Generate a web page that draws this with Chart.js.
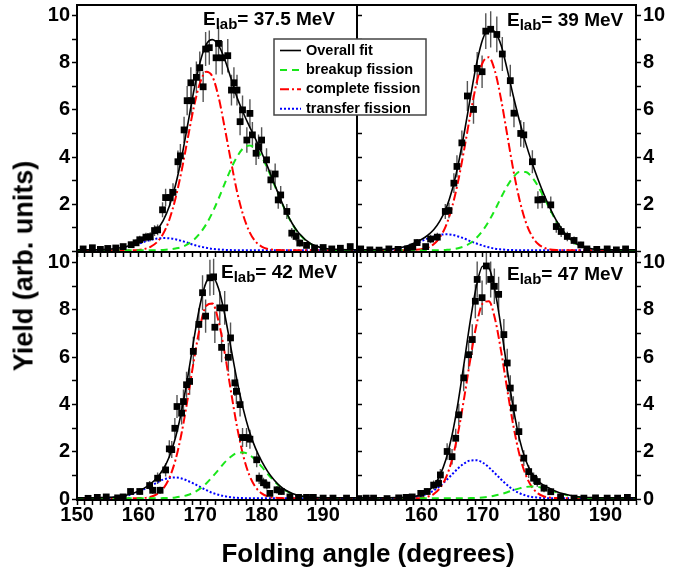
<!DOCTYPE html>
<html>
<head>
<meta charset="utf-8">
<script src="https://cdn.jsdelivr.net/npm/chart.js@4.4.1/dist/chart.umd.min.js"></script>
<style>
  body { margin: 0; background: #fff; }
  #figure { position: relative; width: 691px; height: 575px; font-family: "Liberation Sans", Arial, sans-serif; }
  #figure canvas { position: absolute; left: 0; top: 0; }
  .axis-title { position: absolute; font-weight: bold; white-space: nowrap; color: #000; }
  #xTitle { left: 368px; top: 553px; font-size: 26px; transform: translate(-50%, -50%); }
  #yTitle { left: 24px; top: 266px; font-size: 27px; transform: translate(-50%, -50%) rotate(-90deg); }
</style>
</head>
<body>
<div id="figure">
  <canvas id="p39" width="691" height="575"></canvas>
  <canvas id="p42" width="691" height="575"></canvas>
  <canvas id="p47" width="691" height="575"></canvas>
  <canvas id="p37" width="691" height="575"></canvas>
  <div class="axis-title" id="xTitle">Folding angle (degrees)</div>
  <div class="axis-title" id="yTitle">Yield (arb. units)</div>
</div>
<script>
// ---- fit curves, sampled on a common angle grid ----
const fitAngles = [148, 150, 152, 154, 156, 158,
  160, 161, 162, 163, 164, 165, 166, 167, 168, 169,
  170, 171, 172, 173, 174, 175, 176, 177, 178, 179,
  180, 181, 182, 183, 184, 185, 186,
  188, 190, 192, 194, 196];

// E_lab = 37.5 MeV
const overall37  = [0.06,0.06,0.06,0.07,0.11,0.20, 0.36,0.49,0.66,0.91,1.30,1.91,2.80,3.98,5.39,6.83, 8.02,8.78,8.98,8.74,8.15,7.35,6.53,5.89,5.31,4.77, 4.19,3.57,2.91,2.26,1.66,1.17,0.79, 0.32,0.14,0.08,0.06,0.06];
const breakup37  = [0.04,0.04,0.04,0.04,0.04,0.04, 0.04,0.04,0.04,0.05,0.06,0.08,0.12,0.18,0.30,0.49, 0.77,1.15,1.64,2.23,2.87,3.49,4.01,4.37,4.49,4.37, 4.01,3.49,2.87,2.23,1.64,1.15,0.77, 0.30,0.12,0.06,0.04,0.04];
const complete37 = [0.04,0.04,0.04,0.04,0.04,0.04, 0.06,0.10,0.20,0.39,0.74,1.34,2.24,3.42,4.79,6.13, 7.15,7.62,7.42,6.55,5.25,3.85,2.54,1.54,0.84,0.42, 0.20,0.10,0.06,0.05,0.04,0.04,0.04, 0.04,0.04,0.04,0.04,0.04];
const transfer37 = [0.04,0.04,0.04,0.05,0.09,0.18, 0.32,0.41,0.48,0.54,0.56,0.55,0.51,0.44,0.36,0.27, 0.20,0.15,0.10,0.08,0.06,0.05,0.04,0.04,0.04,0.04, 0.04,0.04,0.04,0.04,0.04,0.04,0.04, 0.04,0.04,0.04,0.04,0.04];

// E_lab = 39 MeV
const overall39  = [0.06,0.06,0.07,0.08,0.13,0.26, 0.50,0.67,0.91,1.28,1.80,2.59,3.68,5.04,6.54,7.96, 9.00,9.42,9.30,8.74,7.71,6.58,5.53,4.60,3.79,3.07, 2.41,1.82,1.31,0.91,0.59,0.37,0.23, 0.10,0.07,0.06,0.06,0.06];
const breakup39  = [0.04,0.04,0.04,0.04,0.04,0.04, 0.04,0.04,0.04,0.05,0.06,0.08,0.13,0.21,0.35,0.57, 0.88,1.28,1.76,2.28,2.77,3.15,3.36,3.36,3.15,2.77, 2.28,1.76,1.28,0.88,0.57,0.35,0.21, 0.08,0.05,0.04,0.04,0.04];
const complete39 = [0.04,0.04,0.04,0.04,0.04,0.05, 0.09,0.15,0.30,0.59,1.08,1.87,2.98,4.35,5.82,7.14, 8.01,8.23,7.64,6.44,4.94,3.44,2.19,1.26,0.66,0.32, 0.15,0.08,0.05,0.04,0.04,0.04,0.04, 0.04,0.04,0.04,0.04,0.04];
const transfer39 = [0.04,0.04,0.05,0.06,0.11,0.24, 0.43,0.54,0.63,0.70,0.72,0.70,0.63,0.54,0.43,0.33, 0.24,0.17,0.11,0.08,0.06,0.05,0.04,0.04,0.04,0.04, 0.04,0.04,0.04,0.04,0.04,0.04,0.04, 0.04,0.04,0.04,0.04,0.04];

// E_lab = 42 MeV
const overall42  = [0.06,0.06,0.06,0.07,0.09,0.17, 0.34,0.48,0.66,0.91,1.27,1.80,2.60,3.74,5.17,6.77, 8.22,9.18,9.40,8.91,7.82,6.42,5.03,3.83,2.88,2.16, 1.61,1.17,0.83,0.56,0.37,0.24,0.16, 0.08,0.06,0.06,0.06,0.06];
const breakup42  = [0.04,0.04,0.04,0.04,0.04,0.04, 0.04,0.04,0.04,0.04,0.05,0.06,0.08,0.12,0.18,0.29, 0.45,0.67,0.95,1.25,1.56,1.80,1.96,1.98,1.88,1.66, 1.38,1.07,0.78,0.53,0.35,0.22,0.14, 0.06,0.04,0.04,0.04,0.04];
const complete42 = [0.04,0.04,0.04,0.04,0.04,0.04, 0.05,0.06,0.11,0.22,0.45,0.90,1.66,2.80,4.27,5.88, 7.31,8.18,8.27,7.53,6.19,4.59,3.07,1.86,1.02,0.52, 0.25,0.12,0.07,0.05,0.04,0.04,0.04, 0.04,0.04,0.04,0.04,0.04];
const transfer42 = [0.04,0.04,0.04,0.05,0.07,0.15, 0.31,0.44,0.57,0.71,0.83,0.90,0.92,0.88,0.78,0.66, 0.52,0.39,0.27,0.19,0.13,0.09,0.06,0.05,0.04,0.04, 0.04,0.04,0.04,0.04,0.04,0.04,0.04, 0.04,0.04,0.04,0.04,0.04];

// E_lab = 47 MeV
const overall47  = [0.06,0.06,0.06,0.06,0.07,0.09, 0.19,0.33,0.57,1.00,1.68,2.71,4.12,5.82,7.58,9.04, 9.85,9.77,8.83,7.26,5.48,3.84,2.54,1.66,1.11,0.78, 0.58,0.45,0.33,0.24,0.18,0.13,0.10, 0.07,0.06,0.06,0.06,0.06];
const breakup47  = [0.04,0.04,0.04,0.04,0.04,0.04, 0.04,0.04,0.04,0.04,0.04,0.04,0.04,0.04,0.05,0.06, 0.08,0.11,0.16,0.22,0.30,0.39,0.46,0.52,0.54,0.52, 0.46,0.39,0.30,0.22,0.16,0.11,0.08, 0.05,0.04,0.04,0.04,0.04];
const complete47 = [0.04,0.04,0.04,0.04,0.04,0.04, 0.06,0.11,0.22,0.46,0.91,1.68,2.83,4.32,5.95,7.39, 8.28,8.37,7.63,6.26,4.64,3.11,1.88,1.04,0.53,0.25, 0.12,0.07,0.05,0.04,0.04,0.04,0.04, 0.04,0.04,0.04,0.04,0.04];
const transfer47 = [0.04,0.04,0.04,0.04,0.05,0.07, 0.15,0.24,0.37,0.56,0.79,1.05,1.31,1.52,1.64,1.65, 1.55,1.35,1.10,0.84,0.60,0.40,0.26,0.16,0.10,0.07, 0.05,0.04,0.04,0.04,0.04,0.04,0.04, 0.04,0.04,0.04,0.04,0.04];

// ---- measured yields with their errors ----
const angles37 = [151.0,152.5,153.8,155.0,156.3,157.5,158.8,159.6,160.2,161.2, 161.9,162.6,163.1,163.9,164.4,165.1,165.6,166.4,166.8,167.4, 167.9,168.5,168.6,169.4,169.95,170.5,170.9,171.5,172.6,173.0, 173.6,174.5,175.1,175.5,176.0,176.5,176.9,177.6,178.1,178.5, 179.1,179.5,180.0,180.8,181.5,182.2,182.7,183.1,184.1,184.9, 185.6,186.2,187.3,188.6,190.0,191.4,192.8,194.4];
const yield37  = [0.10,0.15,0.08,0.12,0.14,0.20,0.28,0.36,0.49,0.60, 0.62,0.88,0.91,1.76,2.28,2.28,2.50,3.80,4.05,5.15, 6.39,7.15,6.39,7.38,7.79,6.98,8.58,8.64,8.21,8.82, 8.21,8.30,6.84,7.15,6.84,5.50,6.00,4.72,5.85,4.94, 4.16,4.44,4.72,3.88,3.03,3.28,2.18,2.39,1.69,0.77, 0.63,0.35,0.25,0.14,0.16,0.10,0.13,0.20];
const err37    = [0.08,0.08,0.07,0.08,0.08,0.10,0.12,0.14,0.17,0.19, 0.19,0.23,0.23,0.32,0.37,0.37,0.39,0.48,0.50,0.56, 0.62,0.66,0.62,0.67,0.69,0.65,0.72,0.73,0.71,0.74, 0.71,0.71,0.65,0.66,0.65,0.58,0.61,0.54,0.60,0.55, 0.50,0.52,0.54,0.49,0.43,0.45,0.37,0.38,0.32,0.22, 0.20,0.15,0.12,0.09,0.10,0.08,0.09,0.11];

const angles39 = [150.1,151.6,153.1,154.7,156.2,157.7,158.6,159.3,160.7,161.5, 162.6,163.9,164.5,165.3,165.8,166.6,167.5,168.5,169.1,169.9, 170.5,171.3,172.3,173.2,174.5,175.1,176.2,176.7,178.1,179.0, 179.7,181.1,182.0,182.8,183.8,184.9,186.0,187.0,188.6,190.3, 191.8,193.3];
const yield39  = [0.10,0.06,0.05,0.10,0.08,0.10,0.18,0.37,0.20,0.52, 0.60,1.69,1.73,2.89,3.60,4.60,6.59,6.02,7.76,7.62, 9.34,9.42,9.20,8.37,7.24,5.86,5.00,4.94,3.80,2.18, 2.20,1.97,1.05,0.84,0.63,0.46,0.27,0.10,0.08,0.10, 0.06,0.10];
const err39    = [0.08,0.07,0.07,0.08,0.07,0.08,0.10,0.15,0.11,0.18, 0.19,0.32,0.33,0.42,0.47,0.53,0.64,0.61,0.70,0.69, 0.76,0.77,0.76,0.72,0.67,0.60,0.56,0.55,0.49,0.37, 0.37,0.35,0.26,0.23,0.20,0.17,0.13,0.08,0.07,0.08, 0.07,0.08];

const angles42 = [151.8,153.3,154.75,156.6,157.5,158.7,160.2,161.8,162.3,163.1, 163.5,164.4,165.0,165.4,165.9,166.25,167.0,167.3,167.8,168.3, 168.9,169.8,170.4,170.9,171.6,172.2,172.4,173.2,173.5,174.0, 174.6,174.95,175.65,175.9,176.5,176.9,177.55,178.1,179.2,179.6, 180.3,180.85,181.35,182.5,183.2,184.6,186.0,187.3,188.4,190.0, 191.6,193.8];
const yield42  = [0.04,0.08,0.10,0.06,0.10,0.33,0.33,0.58,0.38,0.89, 0.38,1.24,2.13,2.10,3.00,3.92,3.64,4.13,4.84,4.98, 6.25,7.39,8.73,7.74,9.36,9.40,7.27,8.09,6.42,8.09, 6.00,6.82,4.92,4.56,4.00,2.61,2.61,2.54,1.67,0.89, 0.70,0.60,0.25,0.40,0.33,0.10,0.08,0.08,0.08,0.05, 0.05,0.05];
const err42    = [0.06,0.07,0.08,0.07,0.08,0.14,0.14,0.19,0.15,0.24, 0.15,0.28,0.36,0.36,0.43,0.49,0.48,0.51,0.55,0.56, 0.62,0.68,0.74,0.70,0.76,0.77,0.67,0.71,0.63,0.71, 0.61,0.65,0.55,0.53,0.50,0.40,0.40,0.40,0.32,0.24, 0.21,0.19,0.12,0.16,0.14,0.08,0.07,0.07,0.07,0.06, 0.06,0.06];

const angles47 = [149.8,151.0,152.2,154.4,156.3,157.5,158.5,159.9,160.95,162.0, 162.8,163.1,164.2,165.0,165.6,166.1,166.9,167.7,168.3,168.8, 169.1,169.9,170.6,171.3,171.9,172.6,173.45,174.0,174.5,175.0, 175.9,176.7,177.5,178.3,178.9,180.0,181.1,182.7,184.9,186.5, 188.4,190.3,192.0,193.6];
const yield47  = [0.03,0.05,0.05,0.03,0.06,0.08,0.10,0.25,0.33,0.60, 0.67,1.03,2.02,1.80,2.58,3.57,5.13,6.11,6.75,8.37, 9.29,8.52,9.86,9.29,9.00,8.66,6.96,5.76,4.70,3.86, 2.86,1.74,1.17,0.89,0.75,0.47,0.32,0.10,0.05,0.05, 0.06,0.05,0.05,0.08];
const err47    = [0.06,0.06,0.07,0.06,0.07,0.07,0.08,0.12,0.14,0.19, 0.20,0.25,0.35,0.33,0.40,0.47,0.56,0.61,0.65,0.72, 0.76,0.73,0.78,0.76,0.75,0.74,0.66,0.60,0.54,0.49, 0.42,0.33,0.27,0.24,0.22,0.17,0.14,0.08,0.06,0.06, 0.06,0.06,0.06,0.07];

// labelled ticks (the right-hand panels start their labels at 160)
const angleLabelsLeft  = [150, 160, 170, 180, 190];
const angleLabelsRight = [160, 170, 180, 190];
const yieldLabels = [0, 2, 4, 6, 8, 10];

const fitNames = ['Overall fit', 'breakup fission', 'complete fission', 'transfer fission'];

const FONT = '"Liberation Sans", Arial, sans-serif';
Chart.defaults.font.family = FONT;
Chart.defaults.color = '#000';

// fixed axis sizes so every panel rectangle is set by layout.padding
const Y_LABEL_W = 40, X_LABEL_H = 30;

function fixedSize(size) {
  return scale => {
    if (scale.isHorizontal()) scale.height = size; else scale.width = size;
    scale.paddingTop = scale.paddingBottom = scale.paddingLeft = scale.paddingRight = 0;
  };
}

function stepTicks(min, max, step) {
  const out = [];
  for (let v = Math.ceil(min / step) * step; v <= max + 1e-9; v += step) out.push({ value: +v.toFixed(3) });
  return out;
}

const errorBars = {
  id: 'errorBars',
  beforeDatasetsDraw(chart) {
    const { ctx, chartArea: a, scales } = chart;
    ctx.save();
    ctx.beginPath();
    ctx.rect(a.left, a.top, a.width, a.height);
    ctx.clip();
    ctx.strokeStyle = '#555';
    ctx.lineWidth = 1.4;
    chart.data.datasets.forEach(ds => {
      if (!ds.errorBars) return;
      ctx.beginPath();
      ds.data.forEach((pt, i) => {
        const x = scales.x.getPixelForValue(pt.x);
        ctx.moveTo(x, scales.y.getPixelForValue(pt.y - ds.errorBars[i]));
        ctx.lineTo(x, scales.y.getPixelForValue(pt.y + ds.errorBars[i]));
      });
      ctx.stroke();
    });
    ctx.restore();
  }
};

const frame = {
  id: 'frame',
  afterDatasetsDraw(chart) {
    const { ctx, chartArea: a } = chart;
    ctx.save();
    ctx.strokeStyle = '#000';
    ctx.lineWidth = 2;
    ctx.strokeRect(a.left, a.top, a.width, a.height);
    ctx.restore();
  }
};

// "E_lab= xx MeV" in the upper right of each panel
const energyTag = {
  id: 'energyTag',
  afterDraw(chart, args, opts) {
    const { ctx, chartArea: a } = chart;
    let x = a.left + opts.dx;
    const y = a.top + opts.dy;
    ctx.save();
    ctx.fillStyle = '#000';
    ctx.textBaseline = 'alphabetic';
    ctx.font = 'bold 19px ' + FONT;
    ctx.fillText('E', x, y);
    x += ctx.measureText('E').width;
    ctx.font = 'bold 15px ' + FONT;
    ctx.fillText('lab', x, y + 4);
    x += ctx.measureText('lab').width;
    ctx.font = 'bold 19px ' + FONT;
    ctx.fillText('= ' + opts.energy + ' MeV', x, y);
    ctx.restore();
  }
};

const fitLegend = {
  id: 'fitLegend',
  afterDraw(chart, args, opts) {
    const { ctx, chartArea: a } = chart;
    const x = a.left + opts.dx, y = a.top + opts.dy;
    ctx.save();
    ctx.fillStyle = '#fff';
    ctx.fillRect(x, y, opts.width, opts.height);
    ctx.strokeStyle = '#444';
    ctx.lineWidth = 1.5;
    ctx.strokeRect(x, y, opts.width, opts.height);
    ctx.font = 'bold 14.5px ' + FONT;
    ctx.textBaseline = 'middle';
    chart.data.datasets.slice(1).forEach((ds, i) => {
      const rowY = y + 11.5 + i * 19.4;
      ctx.strokeStyle = ds.borderColor;
      ctx.lineWidth = ds.borderWidth;
      ctx.setLineDash(ds.borderDash || []);
      ctx.beginPath();
      ctx.moveTo(x + 6, rowY);
      ctx.lineTo(x + 27, rowY);
      ctx.stroke();
      ctx.setLineDash([]);
      ctx.fillStyle = '#000';
      ctx.fillText(ds.label, x + 32, rowY);
    });
    ctx.restore();
  }
};

const panels = [
  { canvas: 'p37', energy: '37.5', angles: angles37, yields: yield37, errors: err37,
    fits: [overall37, breakup37, complete37, transfer37],
    area: [77, 357, 5, 252], xMin: 150, xMax: 195.5, side: 'left', xLabels: [], zeroLabel: false, tag: [126, 20], legend: true },
  { canvas: 'p39', energy: '39', angles: angles39, yields: yield39, errors: err39,
    fits: [overall39, breakup39, complete39, transfer39],
    area: [357, 636, 5, 252], xMin: 149.5, xMax: 195, side: 'right', xLabels: [], zeroLabel: false, tag: [150, 21] },
  { canvas: 'p42', energy: '42', angles: angles42, yields: yield42, errors: err42,
    fits: [overall42, breakup42, complete42, transfer42],
    area: [77, 357, 252, 500], xMin: 150, xMax: 195.5, side: 'left', xLabels: angleLabelsLeft, zeroLabel: true, tag: [144, 26] },
  { canvas: 'p47', energy: '47', angles: angles47, yields: yield47, errors: err47,
    fits: [overall47, breakup47, complete47, transfer47],
    area: [357, 636, 252, 500], xMin: 149.5, xMax: 195, side: 'right', xLabels: angleLabelsRight, zeroLabel: true, tag: [150, 28] }
];

const Y_MIN = -0.03, Y_MAX = 10.45;

function makePanel(p) {
  const curve = values => fitAngles.map((a, i) => ({ x: a, y: values[i] }));
  const tickGrid = { drawOnChartArea: false, drawTicks: true, tickLength: 5, tickWidth: 1.5, tickColor: '#000' };
  const tickFont = { size: 20, weight: 'bold', lineHeight: 1 };
  const xH = p.xLabels.length ? X_LABEL_H : 0;

  const scales = {
    x: {
      type: 'linear', position: 'bottom', min: p.xMin, max: p.xMax, bounds: 'data',
      grid: tickGrid,
      border: { display: true, color: '#000', width: 2 },
      afterBuildTicks: s => { s.ticks = stepTicks(p.xMin, p.xMax, 1.25); },
      ticks: {
        autoSkip: false, maxRotation: 0, minRotation: 0, padding: 0, font: tickFont,
        callback: v => p.xLabels.includes(v) ? String(v) : ''
      },
      afterFit: fixedSize(xH)
    },
    y: {
      type: 'linear', position: p.side, min: Y_MIN, max: Y_MAX, bounds: 'data',
      grid: tickGrid,
      border: { display: true, color: '#000', width: 2 },
      afterBuildTicks: s => { s.ticks = stepTicks(0, 10, 1); },
      ticks: {
        autoSkip: false, padding: 2, font: tickFont,
        callback: v => (yieldLabels.includes(v) && (v !== 0 || p.zeroLabel)) ? String(v) : ''
      },
      afterFit: fixedSize(Y_LABEL_W)
    }
  };
  if (p.side === 'left') {
    // tick marks along the shared middle edge
    scales.yEdge = {
      type: 'linear', position: 'right', min: Y_MIN, max: Y_MAX, bounds: 'data',
      grid: tickGrid,
      border: { display: true, color: '#000', width: 2 },
      afterBuildTicks: s => { s.ticks = stepTicks(0, 10, 1); },
      ticks: { autoSkip: false, callback: () => '' },
      afterFit: fixedSize(0)
    };
  }

  const pad = {
    left: p.area[0] - (p.side === 'left' ? Y_LABEL_W : 0),
    right: 691 - p.area[1] - (p.side === 'right' ? Y_LABEL_W : 0),
    top: p.area[2],
    bottom: 575 - p.area[3] - xH
  };

  const plugins = [errorBars, frame, energyTag];
  if (p.legend) plugins.push(fitLegend);

  new Chart(document.getElementById(p.canvas), {
    type: 'line',
    data: {
      datasets: [
        { label: 'data', data: p.angles.map((a, i) => ({ x: a, y: p.yields[i] })), errorBars: p.errors,
          showLine: false, pointStyle: 'rect', pointRadius: 4.8, pointBackgroundColor: '#000', pointBorderWidth: 0 },
        { label: fitNames[0], data: curve(p.fits[0]), borderColor: '#000', borderWidth: 1.6 },
        { label: fitNames[1], data: curve(p.fits[1]), borderColor: '#19e619', borderWidth: 2, borderDash: [7, 5] },
        { label: fitNames[2], data: curve(p.fits[2]), borderColor: '#ff0000', borderWidth: 2, borderDash: [9, 3, 2, 3] },
        { label: fitNames[3], data: curve(p.fits[3]), borderColor: '#0000ff', borderWidth: 2, borderDash: [2, 2] }
      ]
    },
    options: {
      responsive: false,
      animation: false,
      devicePixelRatio: 1,
      layout: { autoPadding: false, padding: pad },
      datasets: { line: { pointRadius: 0, cubicInterpolationMode: 'monotone', fill: false } },
      scales,
      plugins: {
        legend: { display: false },
        tooltip: { enabled: false },
        energyTag: { energy: p.energy, dx: p.tag[0], dy: p.tag[1] },
        fitLegend: { dx: 197, dy: 34, width: 152, height: 76 }
      }
    },
    plugins
  });
}

panels.forEach(makePanel);
</script>
</body>
</html>
